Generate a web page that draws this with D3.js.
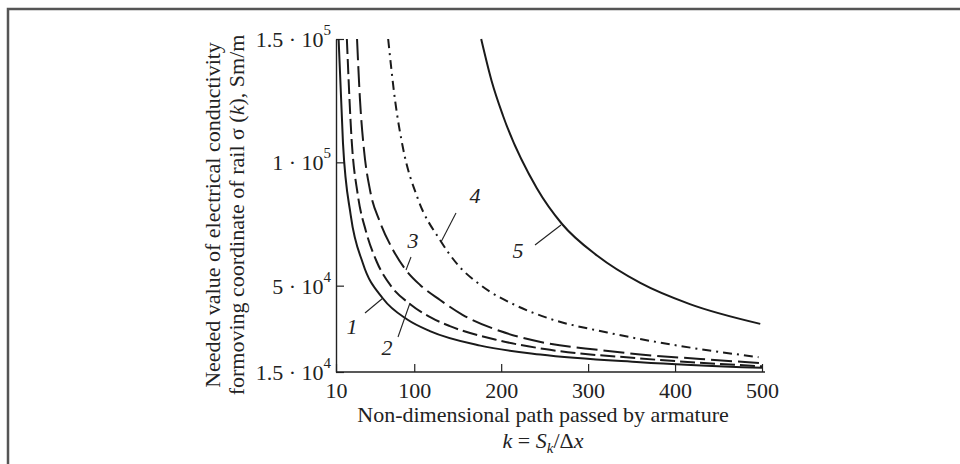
<!DOCTYPE html>
<html>
<head>
<meta charset="utf-8">
<script src="https://cdn.jsdelivr.net/npm/d3@7"></script>
<style>
  body { margin: 0; background: #fff; }
  svg text { font-family: "Liberation Serif", "Times New Roman", serif; fill: #222; }
</style>
</head>
<body>
<svg id="chart" width="960" height="464"></svg>
<script>
// k (non-dimensional path) vs sigma (Sm/m)
var curve1 = [[13,150000],[18,108000],[27,78400],[41,59000],[64,44800],[92,36300],[118,31600],[176,25700],[245,22100],[360,19000],[500,16700]];
var curve2 = [[22.5,150000],[28,109000],[35,87000],[44.5,72000],[57,59600],[74,49500],[95,42600],[120,36900],[141,33600],[195,28000],[250,24300],[360,20500],[500,17300]];
var curve3 = [[34.2,150000],[37.6,125300],[42.2,105000],[49.1,88800],[60.6,75800],[75.6,64500],[89.4,56800],[106.7,50300],[129.7,44200],[156,38100],[198.7,31600],[250.5,26800],[313.8,23900],[360,22100],[429,20300],[498,18600]];
var curve4 = [[70,150000],[78,125000],[87,105900],[104,85400],[130,68300],[150,58500],[176,50300],[218,41800],[256,36600],[322,31000],[398,26000],[496,21000]];
var curve5 = [[177,150000],[189,133000],[202,119000],[241,89500],[270,75000],[311,62000],[360,51100],[417,42500],[498,34500]];

var xTicks = [10, 100, 200, 300, 400, 500];
var yTicks = [15000, 50000, 100000, 150000];
var yMantissa = ["1.5", "5", "1", "1.5"];
var yExponent = ["4", "4", "5", "5"];

var curveLabels = ["1", "2", "3", "4", "5"];

var svg = d3.select("#chart");

// frame
svg.append("rect")
  .attr("x", 8).attr("y", 9)
  .attr("width", 1000).attr("height", 1000)
  .attr("fill", "none")
  .attr("stroke", "#555")
  .attr("stroke-width", 2.5);

var x = d3.scaleLinear().domain([10, 500]).range([336, 762]);
var y = d3.scaleLinear().domain([15000, 150000]).range([372, 39]);

// x axis
var xAxis = svg.append("g")
  .attr("transform", "translate(0," + y(15000) + ")")
  .call(d3.axisBottom(x).tickValues(xTicks).tickSizeInner(-8).tickSizeOuter(0));
xAxis.select(".domain").attr("d", "M" + x(10) + ",0H" + (x(500) + 3)).attr("stroke", "#222").attr("stroke-width", 1.4);
xAxis.selectAll(".tick line").attr("stroke", "#222").attr("stroke-width", 1.2);
xAxis.selectAll(".tick text").style("font-size", "22px").attr("fill", "#222")
  .attr("y", 26).attr("dy", 0);

// y axis
var yAxis = svg.append("g")
  .attr("transform", "translate(" + x(10) + ",0)")
  .call(d3.axisLeft(y).tickValues(yTicks).tickSizeInner(-8).tickSizeOuter(0).tickFormat(function() { return ""; }));
yAxis.select(".domain").attr("stroke", "#222").attr("stroke-width", 1.4);
yAxis.selectAll(".tick line").attr("stroke", "#222").attr("stroke-width", 1.2);

yTicks.forEach(function(v, i) {
  var t = svg.append("text")
    .attr("x", 331)
    .attr("y", y(v) + 8)
    .attr("text-anchor", "end")
    .style("font-size", "22px");
  t.append("tspan").text(yMantissa[i] + " \u00b7 10");
  t.append("tspan").attr("dy", -12).style("font-size", "15px").text(yExponent[i]);
});

// curves
var line = d3.line()
  .x(function(d) { return x(d[0]); })
  .y(function(d) { return y(d[1]); })
  .curve(d3.curveMonotoneX);

var series = [
  { data: curve1, dash: null },
  { data: curve2, dash: "15,5" },
  { data: curve3, dash: "21,6" },
  { data: curve4, dash: "9,5,2,5" },
  { data: curve5, dash: null }
];

svg.append("g").selectAll("path")
  .data(series)
  .enter()
  .append("path")
  .attr("d", function(d) { return line(d.data); })
  .attr("fill", "none")
  .attr("stroke", "#1a1a1a")
  .attr("stroke-width", 2)
  .attr("stroke-dasharray", function(d) { return d.dash; });

// curve labels with leader lines
var labelPos = [[352, 334], [387, 355], [413, 248], [475, 203], [518, 258]];
var leaders = [[365, 313, 383, 298], [398, 337, 410, 303], [411, 257, 406, 270], [456, 213, 441, 242], [535, 245, 561, 225]];

svg.append("g").selectAll("line")
  .data(leaders)
  .enter()
  .append("line")
  .attr("x1", function(d) { return d[0]; })
  .attr("y1", function(d) { return d[1]; })
  .attr("x2", function(d) { return d[2]; })
  .attr("y2", function(d) { return d[3]; })
  .attr("stroke", "#222")
  .attr("stroke-width", 1.1);

svg.append("g").selectAll("text")
  .data(curveLabels)
  .enter()
  .append("text")
  .attr("x", function(d, i) { return labelPos[i][0]; })
  .attr("y", function(d, i) { return labelPos[i][1]; })
  .attr("text-anchor", "middle")
  .style("font-size", "22px")
  .style("font-style", "italic")
  .text(function(d) { return d; });

// axis titles
svg.append("text")
  .attr("x", 543).attr("y", 422)
  .attr("text-anchor", "middle")
  .style("font-size", "22px")
  .text("Non-dimensional path passed by armature");

var xt2 = svg.append("text")
  .attr("x", 543).attr("y", 448)
  .attr("text-anchor", "middle")
  .style("font-size", "22px");
xt2.append("tspan").style("font-style", "italic").text("k");
xt2.append("tspan").text(" = ");
xt2.append("tspan").style("font-style", "italic").text("S");
xt2.append("tspan").style("font-style", "italic").style("font-size", "15px").attr("dy", 5).text("k");
xt2.append("tspan").attr("dy", -5).text("/\u0394");
xt2.append("tspan").style("font-style", "italic").text("x");

var yt = svg.append("g").attr("transform", "translate(220,215) rotate(-90)");
yt.append("text")
  .attr("text-anchor", "middle")
  .style("font-size", "22px")
  .text("Needed value of electrical conductivity");
var yt2 = yt.append("text")
  .attr("y", 24)
  .attr("text-anchor", "middle")
  .style("font-size", "22px");
yt2.append("tspan").text("formoving coordinate of rail \u03c3 (");
yt2.append("tspan").style("font-style", "italic").text("k");
yt2.append("tspan").text("), Sm/m");
</script>
</body>
</html>
